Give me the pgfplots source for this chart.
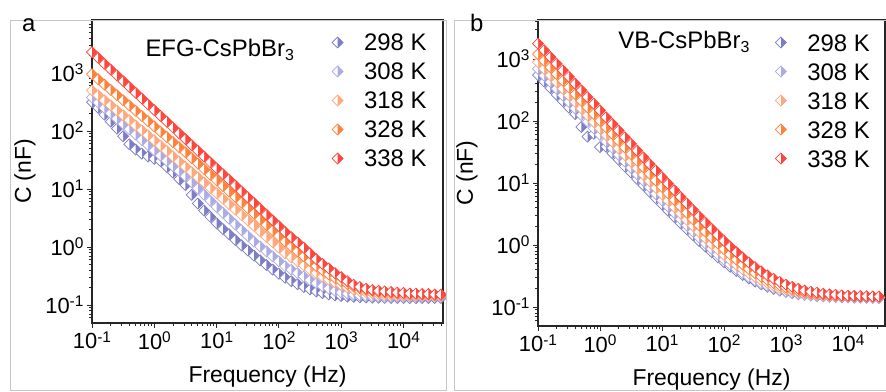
\documentclass[border=0pt]{standalone}
\usepackage{fontspec}
\setmainfont{Liberation Sans}
\usepackage{pgfplots}
\pgfplotsset{compat=1.18}
\usepackage{pgfplotstable}

\definecolor{cA}{RGB}{125,125,200}
\definecolor{cB}{RGB}{172,172,228}
\definecolor{cC}{RGB}{255,168,125}
\definecolor{cD}{RGB}{255,130,60}
\definecolor{cE}{RGB}{255,70,60}

\newcommand{\sx}[1]{10\raisebox{6.8bp}{\fontsize{15.5}{15.5}\selectfont #1}}

\pgfdeclareplotmark{hdiamond}{%
  \pgfpathmoveto{\pgfqpoint{0pt}{\pgfplotmarksize}}%
  \pgfpathlineto{\pgfqpoint{\pgfplotmarksize}{0pt}}%
  \pgfpathlineto{\pgfqpoint{0pt}{-\pgfplotmarksize}}%
  \pgfpathlineto{\pgfqpoint{-\pgfplotmarksize}{0pt}}%
  \pgfpathclose
  \pgfusepathqfill
  \begin{pgfscope}%
  \pgfsetfillcolor{white}%
  \pgfpathmoveto{\pgfqpoint{0pt}{\pgfplotmarksize}}%
  \pgfpathlineto{\pgfqpoint{-\pgfplotmarksize}{0pt}}%
  \pgfpathlineto{\pgfqpoint{0pt}{-\pgfplotmarksize}}%
  \pgfpathclose
  \pgfusepathqfill
  \end{pgfscope}%
  \pgfpathmoveto{\pgfqpoint{0pt}{\pgfplotmarksize}}%
  \pgfpathlineto{\pgfqpoint{\pgfplotmarksize}{0pt}}%
  \pgfpathlineto{\pgfqpoint{0pt}{-\pgfplotmarksize}}%
  \pgfpathlineto{\pgfqpoint{-\pgfplotmarksize}{0pt}}%
  \pgfpathclose
  \pgfusepathqstroke
}

% panel a: f, 298 K, 308 K, 318 K, 328 K, 338 K
\pgfplotstableread{
f a b c d e
0.1 316 380 501 955 2291
0.1259 251 308 411 776 1820
0.1585 191 249 337 631 1445
0.1995 145 202 277 513 1148
0.2512 110 163 227 417 912
0.3162 81.3 132 186 339 724
0.3981 58.9 107 153 275 575
0.5012 47.9 86.7 125 224 457
0.6310 40.7 70.3 103 182 363
0.7943 36.3 56.9 84.3 148 288
1 33.1 46.1 68.9 120 229
1.259 30.2 37.6 55.8 97.7 182
1.585 24.0 30.6 45.3 79.4 145
1.995 19.1 24.9 36.7 64.6 115
2.512 14.8 20.3 29.8 52.5 91.2
3.162 11.7 16.6 24.2 42.7 72.4
3.981 7.94 13.0 19.6 34.2 57.5
5.012 5.62 10.2 15.9 27.4 45.7
6.310 4.27 7.98 12.9 22.0 36.3
7.943 3.31 6.25 10.4 17.6 28.8
10 2.57 4.90 8.47 14.1 22.9
12.59 2.04 3.89 6.82 11.3 18.2
15.85 1.66 3.09 5.50 9.08 14.5
19.95 1.32 2.45 4.43 7.28 11.5
25.12 1.07 1.95 3.56 5.83 9.12
31.62 0.871 1.55 2.87 4.68 7.24
39.81 0.708 1.24 2.31 3.75 5.75
50.12 0.589 1.02 1.86 3.01 4.57
63.10 0.490 0.841 1.50 2.41 3.63
79.43 0.407 0.692 1.21 1.93 2.88
100 0.347 0.569 0.973 1.55 2.29
125.9 0.295 0.468 0.783 1.24 1.82
158.5 0.257 0.407 0.661 1.023 1.48
199.5 0.229 0.355 0.562 0.841 1.20
251.2 0.204 0.309 0.479 0.692 0.977
316.2 0.186 0.269 0.407 0.569 0.776
398.1 0.171 0.237 0.355 0.468 0.617
501.2 0.160 0.209 0.309 0.398 0.513
631.0 0.153 0.191 0.275 0.339 0.427
794.3 0.147 0.176 0.245 0.295 0.355
1000 0.143 0.164 0.221 0.257 0.302
1259 0.140 0.157 0.200 0.229 0.257
1585 0.138 0.151 0.184 0.209 0.224
1995 0.136 0.146 0.174 0.195 0.204
2512 0.135 0.143 0.166 0.182 0.191
3162 0.134 0.141 0.160 0.174 0.182
3981 0.133 0.140 0.155 0.168 0.176
5012 0.133 0.139 0.151 0.164 0.172
6310 0.132 0.139 0.150 0.162 0.168
7943 0.132 0.139 0.148 0.158 0.164
10000 0.132 0.139 0.148 0.158 0.162
12590 0.132 0.139 0.146 0.155 0.158
15850 0.132 0.139 0.146 0.155 0.158
19950 0.132 0.139 0.145 0.153 0.155
25120 0.132 0.139 0.145 0.151 0.155
31620 0.132 0.139 0.145 0.151 0.151
39810 0.132 0.139 0.145 0.151 0.151
}\tabA

% panel b: f, 298 K, 308 K, 318 K, 328 K, 338 K
\pgfplotstableread{
f a b c d e
0.1 550 692 891 1202 1778
0.1259 432 541 697 939 1387
0.1585 339 424 545 733 1081
0.1995 266 332 426 572 843
0.2512 209 259 333 447 658
0.3162 164 203 260 349 513
0.3981 129 159 203 272 400
0.5012 80 124 159 213 312
0.6310 56 97.3 124 166 243
0.7943 62.4 76.1 97.1 130 190
1 38 59.6 75.9 101 148
1.259 38.5 46.6 59.3 79.0 115
1.585 30.2 36.5 46.3 61.7 89.9
1.995 23.7 28.5 36.2 48.1 70.1
2.512 18.6 22.3 28.3 37.6 54.7
3.162 14.8 17.6 22.1 29.3 42.7
3.981 11.6 13.8 17.4 22.9 33.3
5.012 9.16 10.85 13.65 18.0 25.9
6.310 7.22 8.52 10.7 14.1 20.2
7.943 5.70 6.69 8.40 11.05 15.9
10 4.51 5.27 6.60 8.66 12.45
12.59 3.57 4.15 5.19 6.79 9.74
15.85 2.83 3.28 4.09 5.33 7.63
19.95 2.25 2.60 3.23 4.20 5.98
25.12 1.80 2.06 2.55 3.31 4.69
31.62 1.44 1.645 2.03 2.61 3.69
39.81 1.16 1.32 1.62 2.07 2.91
50.12 0.944 1.06 1.30 1.65 2.30
63.10 0.771 0.861 1.04 1.32 1.83
79.43 0.636 0.704 0.848 1.06 1.46
100 0.529 0.582 0.695 0.861 1.17
125.9 0.446 0.485 0.575 0.704 0.943
158.5 0.380 0.410 0.481 0.582 0.767
199.5 0.328 0.352 0.407 0.486 0.630
251.2 0.288 0.306 0.350 0.411 0.523
316.2 0.256 0.270 0.305 0.353 0.440
398.1 0.231 0.241 0.270 0.307 0.375
501.2 0.212 0.219 0.243 0.272 0.324
631.0 0.196 0.202 0.222 0.244 0.285
794.3 0.184 0.189 0.205 0.222 0.254
1000 0.175 0.178 0.192 0.205 0.230
1259 0.167 0.170 0.182 0.192 0.211
1585 0.161 0.163 0.174 0.182 0.197
1995 0.157 0.158 0.167 0.174 0.185
2512 0.153 0.154 0.163 0.167 0.176
3162 0.150 0.151 0.159 0.163 0.170
3981 0.148 0.149 0.156 0.159 0.164
5012 0.146 0.147 0.153 0.156 0.160
6310 0.145 0.146 0.151 0.153 0.157
7943 0.144 0.145 0.150 0.152 0.154
10000 0.143 0.144 0.149 0.151 0.152
12590 0.142 0.143 0.148 0.150 0.151
15850 0.142 0.142 0.147 0.149 0.150
19950 0.141 0.142 0.147 0.148 0.149
25120 0.141 0.141 0.146 0.147 0.148
31620 0.140 0.141 0.146 0.147 0.147
39810 0.140 0.141 0.145 0.146 0.147
}\tabB

\begin{document}
\begin{tikzpicture}
\useasboundingbox (0,0) rectangle (886bp,392bp);

\begin{axis}[
  scale only axis,
  xmode=log, ymode=log,
  axis line style={line width=1.1bp, black!85},
  tick style={line width=0.9bp, black!85},
  tick align=outside,
  major tick length=5bp, minor tick length=3bp,
  xtick pos=left, ytick pos=left,
  xtick={0.1,1,10,100,1000,10000},
  xticklabels={\sx{-1},\sx{0},\sx{1},\sx{2},\sx{3},\sx{4}},
  ytick={0.1,1,10,100,1000},
  yticklabels={\sx{-1},\sx{0},\sx{1},\sx{2},\sx{3}},
  minor xtick={0.2,0.3,0.4,0.5,0.6,0.7,0.8,0.9,2,3,4,5,6,7,8,9,20,30,40,50,60,70,80,90,200,300,400,500,600,700,800,900,2000,3000,4000,5000,6000,7000,8000,9000,20000,30000,40000},
  minor ytick={0.06,0.07,0.08,0.09,0.2,0.3,0.4,0.5,0.6,0.7,0.8,0.9,2,3,4,5,6,7,8,9,20,30,40,50,60,70,80,90,200,300,400,500,600,700,800,900,2000,3000,4000,5000,6000,7000,8000,9000},
  ticklabel style={font=\fontsize{22}{26}\selectfont},
  xlabel={Frequency (Hz)}, ylabel={C (nF)},
  legend cell align=left,
  legend style={draw=none, fill=none, inner sep=0pt, outer sep=0pt, row sep=12bp,
    nodes={inner sep=0pt, text height=17bp, text depth=0pt, font=\fontsize{24}{28}\selectfont},
    /tikz/every odd column/.append style={column sep=21bp},
    at={(0.684,0.954)}, anchor=north west},
  at={(92bp,69bp)}, anchor=south west,
  width=351bp, height=303bp,
  xmin=0.1, xmax=43000, ymin=0.049, ymax=8200,
  xlabel style={at={(axis description cs:0.5,-0.198)}, anchor=base, font=\fontsize{23}{27}\selectfont},
  ylabel style={at={(axis description cs:-0.191,0.5)}, anchor=center, font=\fontsize{23}{27}\selectfont},
]
\addplot[only marks, mark=hdiamond, mark size=5.5bp, color=cA, mark options={line width=0.7bp, fill=cA, draw=cA}] table[x=f,y=a]{\tabA};
\addplot[only marks, mark=hdiamond, mark size=5.5bp, color=cB, mark options={line width=0.7bp, fill=cB, draw=cB}] table[x=f,y=b]{\tabA};
\addplot[only marks, mark=hdiamond, mark size=5.5bp, color=cC, mark options={line width=0.7bp, fill=cC, draw=cC}] table[x=f,y=c]{\tabA};
\addplot[only marks, mark=hdiamond, mark size=5.5bp, color=cD, mark options={line width=0.7bp, fill=cD, draw=cD}] table[x=f,y=d]{\tabA};
\addplot[only marks, mark=hdiamond, mark size=5.5bp, color=cE, mark options={line width=0.7bp, fill=cE, draw=cE}] table[x=f,y=e]{\tabA};
\legend{298 K,308 K,318 K,328 K,338 K}
\node[anchor=base west, inner sep=0pt, font=\fontsize{24}{28}\selectfont] at (axis description cs:0.152,0.878) {EFG-CsPbBr\raisebox{-4bp}{\fontsize{16}{16}\selectfont 3}};
\end{axis}

\begin{axis}[
  scale only axis,
  xmode=log, ymode=log,
  axis line style={line width=1.1bp, black!85},
  tick style={line width=0.9bp, black!85},
  tick align=outside,
  major tick length=5bp, minor tick length=3bp,
  xtick pos=left, ytick pos=left,
  xtick={0.1,1,10,100,1000,10000},
  xticklabels={\sx{-1},\sx{0},\sx{1},\sx{2},\sx{3},\sx{4}},
  ytick={0.1,1,10,100,1000},
  yticklabels={\sx{-1},\sx{0},\sx{1},\sx{2},\sx{3}},
  minor xtick={0.2,0.3,0.4,0.5,0.6,0.7,0.8,0.9,2,3,4,5,6,7,8,9,20,30,40,50,60,70,80,90,200,300,400,500,600,700,800,900,2000,3000,4000,5000,6000,7000,8000,9000,20000,30000},
  minor ytick={0.06,0.07,0.08,0.09,0.2,0.3,0.4,0.5,0.6,0.7,0.8,0.9,2,3,4,5,6,7,8,9,20,30,40,50,60,70,80,90,200,300,400,500,600,700,800,900,2000,3000,4000},
  ticklabel style={font=\fontsize{22}{26}\selectfont},
  xlabel={Frequency (Hz)}, ylabel={C (nF)},
  legend cell align=left,
  legend style={draw=none, fill=none, inner sep=0pt, outer sep=0pt, row sep=12bp,
    nodes={inner sep=0pt, text height=17bp, text depth=0pt, font=\fontsize{24}{28}\selectfont},
    /tikz/every odd column/.append style={column sep=21bp},
    at={(0.684,0.954)}, anchor=north west},
  at={(538bp,66bp)}, anchor=south west,
  width=347bp, height=306bp,
  xmin=0.1, xmax=39500, ymin=0.0494, ymax=4260,
  xlabel style={at={(axis description cs:0.5,-0.193)}, anchor=base, font=\fontsize{23}{27}\selectfont},
  ylabel style={at={(axis description cs:-0.205,0.5)}, anchor=center, font=\fontsize{23}{27}\selectfont},
]
\addplot[only marks, mark=hdiamond, mark size=5.5bp, color=cA, mark options={line width=0.7bp, fill=cA, draw=cA}] table[x=f,y=a]{\tabB};
\addplot[only marks, mark=hdiamond, mark size=5.5bp, color=cB, mark options={line width=0.7bp, fill=cB, draw=cB}] table[x=f,y=b]{\tabB};
\addplot[only marks, mark=hdiamond, mark size=5.5bp, color=cC, mark options={line width=0.7bp, fill=cC, draw=cC}] table[x=f,y=c]{\tabB};
\addplot[only marks, mark=hdiamond, mark size=5.5bp, color=cD, mark options={line width=0.7bp, fill=cD, draw=cD}] table[x=f,y=d]{\tabB};
\addplot[only marks, mark=hdiamond, mark size=5.5bp, color=cE, mark options={line width=0.7bp, fill=cE, draw=cE}] table[x=f,y=e]{\tabB};
\legend{298 K,308 K,318 K,328 K,338 K}
\node[anchor=base west, inner sep=0pt, font=\fontsize{24}{28}\selectfont] at (axis description cs:0.231,0.908) {VB-CsPbBr\raisebox{-4bp}{\fontsize{16}{16}\selectfont 3}};
\end{axis}

\draw[gray!45, line width=0.8bp] (10bp,2bp) rectangle (446bp,372bp);
\draw[gray!45, line width=0.8bp] (454bp,2bp) rectangle (886bp,372bp);
\node[anchor=base west, inner sep=0pt, font=\fontsize{24}{28}\selectfont] at (22bp,360bp) {a};
\node[anchor=base west, inner sep=0pt, font=\fontsize{24}{28}\selectfont] at (470bp,360bp) {b};
\end{tikzpicture}
\end{document}
